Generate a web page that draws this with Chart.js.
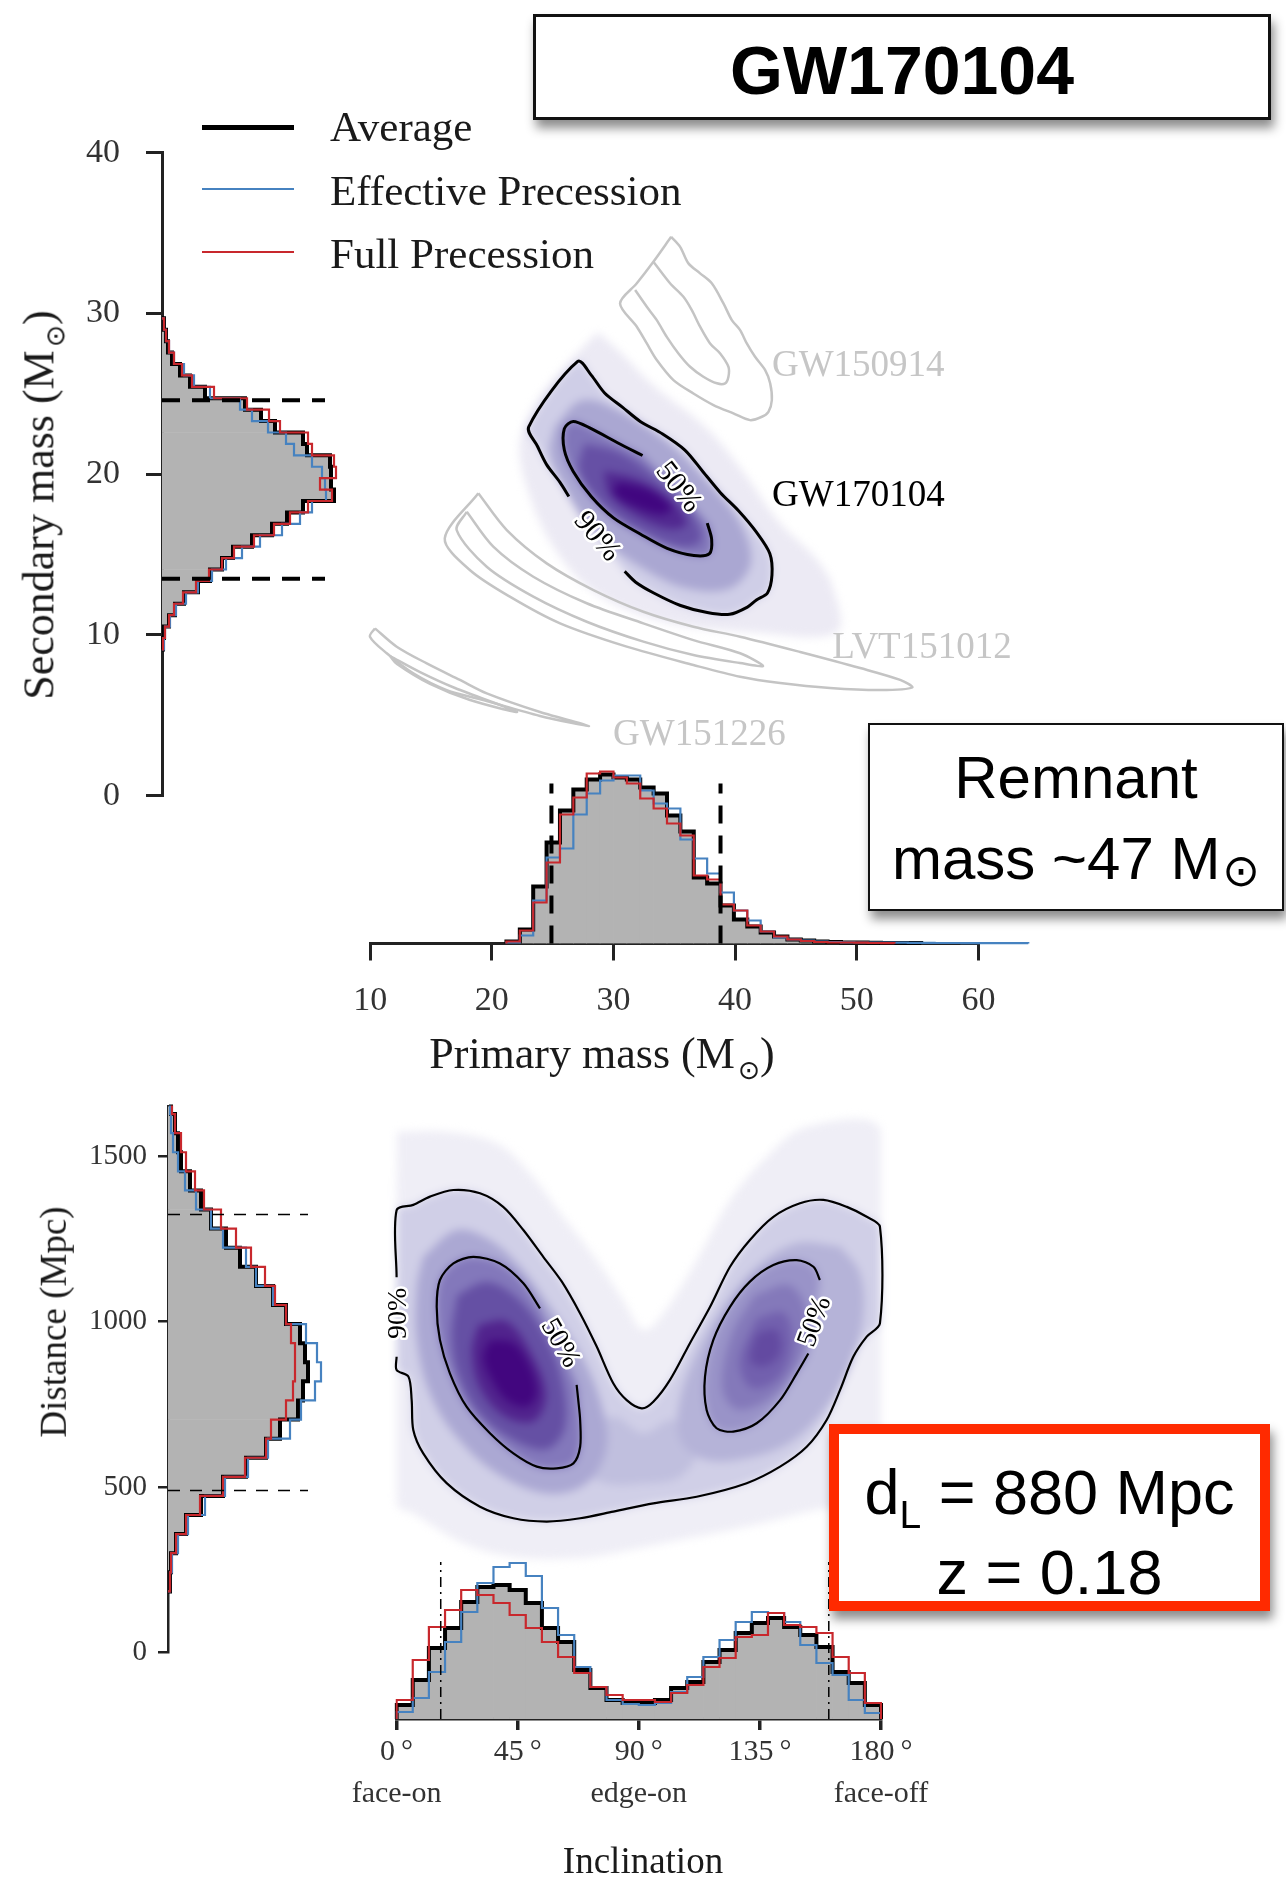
<!DOCTYPE html>
<html>
<head>
<meta charset="utf-8">
<title>GW170104</title>
<script src="https://cdn.jsdelivr.net/npm/chart.js@4.4.1/dist/chart.umd.min.js"></script>
<style>
  html, body { margin: 0; padding: 0; background: #fff; }
  body { width: 1286px; height: 1885px; position: relative; overflow: hidden; font-family: 'Liberation Serif', 'Times New Roman', serif; }
  canvas { position: absolute; }
  .t { position: absolute; white-space: nowrap; color: #1a1a1a; line-height: 1.2; }
  .c { transform: translate(-50%, -50%); }
  .r { transform: translate(-50%, -50%) rotate(-90deg); }
  .l { transform: translateY(-50%); }
  .sun { font-family: 'DejaVu Sans', sans-serif; font-size: 0.6em; vertical-align: -0.4em; margin-left: 0.12em; }
  .swatch { position: absolute; left: 202px; width: 92px; }
  .box { position: absolute; box-sizing: border-box; background: #fff; font-family: 'Liberation Sans', Arial, sans-serif; color: #000; box-shadow: 3px 8px 10px rgba(0,0,0,0.45); }
  .box div { position: absolute; left: 0; right: 0; text-align: center; white-space: nowrap; transform: translateY(-50%); line-height: 1.15; }
</style>
</head>
<body>

<canvas id="secHist" width="360" height="720" style="left:0;top:100px"></canvas>
<canvas id="massDensity" width="800" height="680" style="left:300px;top:140px;filter:blur(4px)"></canvas>
<canvas id="massContours" width="800" height="680" style="left:300px;top:140px"></canvas>
<canvas id="primHist" width="800" height="340" style="left:300px;top:740px"></canvas>
<canvas id="distHist" width="360" height="600" style="left:0;top:1090px"></canvas>
<canvas id="incDensity" width="520" height="560" style="left:380px;top:1100px;filter:blur(4px)"></canvas>
<canvas id="incContours" width="520" height="560" style="left:380px;top:1100px"></canvas>
<canvas id="incHist" width="620" height="355" style="left:330px;top:1530px"></canvas>

<!-- legend -->
<div class="swatch" style="top:125px;height:5px;background:#000"></div>
<div class="swatch" style="top:188px;height:2px;background:#4682c0"></div>
<div class="swatch" style="top:251px;height:2px;background:#c8282d"></div>
<div class="t l" style="left:330px;top:127px;font-size:43px">Average</div>
<div class="t l" style="left:330px;top:191px;font-size:43px">Effective Precession</div>
<div class="t l" style="left:330px;top:254px;font-size:43px">Full Precession</div>

<!-- axis titles -->
<div class="t r" style="left:42px;top:505px;font-size:44px">Secondary mass (M<span class="sun">⊙</span>)</div>
<div class="t c" style="left:602px;top:1057px;font-size:44px">Primary mass (M<span class="sun">⊙</span>)</div>
<div class="t r" style="left:54px;top:1322px;font-size:37px">Distance (Mpc)</div>
<div class="t c" style="left:643px;top:1861px;font-size:37px">Inclination</div>

<!-- boxes -->
<div class="box" style="left:533px;top:14px;width:738px;height:106px;border:3px solid #111">
  <div style="top:53px;font-size:68px;font-weight:bold">GW170104</div>
</div>
<div class="box" style="left:868px;top:723px;width:416px;height:188px;border:2.5px solid #111">
  <div style="top:52px;font-size:60px">Remnant</div>
  <div style="top:135px;font-size:60px">mass ~47 M<span style="font-family:'DejaVu Sans',sans-serif;font-size:0.75em;vertical-align:-0.15em;margin-left:0.04em">⊙</span></div>
</div>
<div class="box" style="left:829px;top:1424px;width:441px;height:187px;border:10px solid #ff2a00">
  <div style="top:63px;font-size:63px">d<span style="font-size:0.62em;vertical-align:-0.35em">L</span> = 880 Mpc</div>
  <div style="top:138px;font-size:63px">z = 0.18</div>
</div>

<script>
// ---------------- histogram data ----------------
// Secondary mass (M_sun): bins of 0.71 starting at 9.1
const m2BinStart = 9.1, m2BinWidth = 0.71;
const m2Average   = [1, 2, 7, 13, 22, 36, 48, 60, 71, 90, 110, 125, 141, 172, 169, 169, 168, 145, 141, 113, 99, 83, 43, 28, 18, 10, 6, 4, 2];
const m2Effective = [2, 3, 8, 14, 24, 36, 50, 64, 80, 98, 120, 138, 150, 164, 163, 160, 150, 132, 124, 106, 90, 78, 48, 32, 22, 12, 7, 4, 2];
const m2Full      = [1, 3, 7, 12, 21, 34, 47, 60, 72, 92, 112, 128, 146, 170, 158, 174, 172, 150, 146, 118, 107, 85, 52, 30, 20, 12, 7, 4, 2];
const m2Interval  = [13.5, 24.6];
const m2Ticks     = [0, 10, 20, 30, 40];

// Primary mass (M_sun): bins of 1.1 starting at 21.2
const m1BinStart = 21.2, m1BinWidth = 1.1;
const m1Average   = [2, 14, 57, 101, 133, 154, 164, 169, 166, 164, 156, 150, 128, 112, 66, 60, 38, 24, 17, 11, 7, 4, 3, 2, 1.5, 1, 1, 0.8, 0.6, 0.5, 0.4, 0, 0, 0, 0, 0, 0, 0, 0];
const m1Effective = [1, 8, 43, 86, 95, 129, 150, 163, 168, 168, 153, 140, 135, 104, 85, 70, 51, 33, 23, 12, 6, 4, 3, 2, 1.5, 1.2, 1, 1, 0.8, 0.8, 0.6, 0.6, 0.5, 0.5, 0.4, 0.4, 0.3, 0.3, 0.3];
const m1Full      = [2, 13, 41, 81, 129, 146, 170, 172, 166, 160, 145, 135, 120, 108, 68, 64, 39, 33, 18, 12, 7, 4, 2.5, 1.5, 1, 1, 0.8, 0.5, 0.3, 0, 0, 0, 0, 0, 0, 0, 0, 0, 0];
const m1Interval  = [24.9, 38.8];
const m1Ticks     = [10, 20, 30, 40, 50, 60];

// Luminosity distance (Mpc): bins of 57.7 starting at 185
const distBinStart = 185, distBinWidth = 57.7;
const distAverage   = [2, 3, 8, 18, 33, 55, 78, 98, 112, 130, 135, 140, 137, 132, 118, 105, 88, 72, 58, 43, 33, 22, 13, 10, 7, 3];
const distEffective = [2, 4, 10, 20, 37, 57, 80, 100, 122, 133, 147, 153, 149, 138, 118, 105, 88, 78, 55, 43, 28, 17, 10, 5, 3, 2];
const distFull      = [2, 3, 8, 18, 32, 55, 77, 98, 103, 118, 125, 127, 127, 123, 118, 107, 97, 83, 68, 53, 36, 27, 18, 13, 7, 4];
const distInterval  = [490, 1324];
const distTicks     = [0, 500, 1000, 1500];

// Inclination (deg): 6 degree bins
const incBinStart = 0, incBinWidth = 6;
const incAverage   = [14, 39, 71, 91, 117, 132, 134, 129, 116, 91, 77, 49, 31, 19, 16, 16, 19, 31, 37, 57, 69, 86, 96, 101, 92, 84, 72, 47, 36, 14];
const incEffective = [7, 21, 47, 77, 107, 136, 152, 156, 143, 111, 84, 52, 32, 19, 15, 14, 16, 27, 42, 62, 79, 97, 107, 106, 97, 74, 56, 44, 19, 6];
const incFull      = [19, 59, 92, 109, 129, 124, 116, 104, 91, 77, 62, 46, 32, 24, 19, 19, 17, 26, 34, 52, 61, 82, 84, 106, 94, 92, 86, 62, 46, 16];
const incInterval  = [16.4, 160.6];
const incTicks     = [0, 45, 90, 135, 180];
const incTickNotes = { 0: 'face-on', 90: 'edge-on', 180: 'face-off' };

// ---------------- 2D credible regions: (m1, m2) ----------------
const gw170104Contour90 = [[26.33,18.61],[25.59,19.5],[24.49,20.61],[23.76,21.72],[23.03,22.94],[27.06,27.01],[28.17,26.16],[29.27,25.05],[30.73,24.17],[32.2,23.28],[34.04,22.5],[35.87,21.5],[37.34,20.17],[38.81,18.83],[40.28,17.72],[41.75,16.39],[42.85,15.06],[43.03,13.73],[42.66,12.61],[41.75,12.17],[41.01,11.73],[39.55,11.28],[37.71,11.39],[35.51,11.83],[33.31,12.61],[31.83,13.28],[30.92,13.95]];
const gw170104Contour50 = [[32.39,21.16],[30.37,21.94],[28.17,22.83],[26.69,23.28],[25.96,22.83],[25.96,21.5],[26.69,20.17],[28.17,18.61],[30.0,17.28],[32.2,16.28],[34.41,15.39],[36.61,14.94],[37.89,15.06],[38.07,15.95],[37.71,16.95]];
const gw150914Outer = [[34.74,34.76],[35.48,34.14],[36.16,33.11],[37.12,32.49],[38.08,31.87],[39.04,30.62],[39.73,29.58],[40.41,28.96],[40.96,28.13],[41.64,27.3],[42.47,26.47],[42.88,25.65],[43.02,24.61],[42.74,23.88],[42.2,23.57],[41.23,23.36],[39.86,23.78],[38.22,24.3],[36.57,25.02],[34.93,25.85],[33.56,27.1],[32.74,28.13],[31.92,29.17],[30.54,30.62],[31.92,31.87],[33.28,33.21]];
const gw150914Inner = [[33.28,33.21],[34.65,31.87],[35.75,31.03],[36.44,30.2],[37.12,29.17],[37.94,28.13],[38.77,27.51],[39.45,26.68],[39.45,26.06],[39.18,25.65],[38.5,25.65],[37.39,26.06],[36.3,26.68],[35.34,27.51],[34.38,28.54],[33.56,29.58],[32.74,30.41],[31.78,31.45]];
const lvt151012Outer = [[18.89,18.81],[21.23,16.52],[24.51,14.45],[28.35,12.79],[32.46,11.44],[36.57,10.51],[40.41,9.89],[45.35,8.94],[50.28,7.94],[53.57,7.2],[54.56,6.73],[51.92,6.57],[47.8,6.7],[43.7,7.01],[40.41,7.4],[36.57,8.13],[31.09,9.27],[25.61,10.72],[21.48,12.38],[18.19,14.04],[16.13,16.01]];
const lvt151012Inner = [[17.94,17.66],[20.12,15.49],[23.41,13.62],[27.8,11.97],[32.46,10.72],[36.57,9.68],[40.41,8.86],[42.3,8.07],[40.41,8.25],[36.57,8.75],[32.46,9.58],[27.8,10.82],[23.41,12.38],[19.58,14.24],[17.11,16.52]];
const gw151226Outer = [[10.39,10.41],[12.18,9.27],[14.65,8.23],[17.38,7.2],[19.58,6.37],[23.96,5.21],[27.99,4.34],[23.96,4.96],[19.3,5.95],[16.29,6.57],[13.54,7.61],[11.36,8.86],[9.98,9.89]];
const gw151226Inner = [[11.63,8.69],[14.1,7.69],[16.97,6.7],[22.07,5.21],[18.21,5.95],[14.92,6.95],[12.2,8.19]];

// posterior density levels for GW170104 in (m1, m2), outermost first
const massDensityOuter = [[28.72,28.83],[30.37,27.72],[33.31,25.5],[37.71,22.83],[40.65,20.17],[43.58,17.06],[46.52,14.84],[47.99,13.06],[48.36,10.17],[41.38,10.17],[34.04,10.84],[28.53,12.61],[25.23,15.28],[23.03,18.83],[22.29,21.94],[23.76,24.61],[26.69,27.28]];
const massDensityMid   = [[25.2,23.0],[27.43,24.6],[30.6,23.9],[34.3,22.1],[37.7,19.6],[40.4,17.0],[41.3,14.5],[39.6,12.9],[36.0,12.9],[32.3,14.2],[28.4,16.4],[25.9,19.2],[24.8,21.4]];
const massDensityInner = [[27.6,21.9],[30.6,21.3],[33.8,19.6],[36.4,17.6],[37.2,15.9],[35.6,15.5],[32.3,16.4],[29.2,18.0],[27.2,20.2]];
const massDensityCore  = [[29.2,20.2],[32.0,19.7],[34.9,18.3],[36.0,16.9],[34.6,16.6],[31.9,17.4],[29.7,18.7]];
const massDensityPeak  = [[30.37,19.5],[32.94,19.05],[34.77,17.95],[34.04,17.5],[31.83,17.95],[30.0,18.83]];

// ---------------- 2D credible regions: (inclination, distance) ----------------
const incContour90 = [[0,894],[0,854],[4.4,834],[5.6,763],[6.2,673],[9.9,602],[18.6,512],[31,441],[43.4,406],[55.8,396],[68.2,406],[80.5,426],[95.4,451],[111.5,471],[130.1,512],[142.5,562],[152.4,622],[159.8,703],[164.8,794],[169.7,894],[174.7,955],[179.6,995],[179.6,1287],[174.7,1317],[167.3,1347],[158.6,1368],[149.9,1358],[140,1317],[131.3,1247],[123.9,1166],[116.5,1045],[109,935],[101.6,824],[95.4,758],[91.1,738],[85.5,763],[80.5,814],[74.4,924],[68.2,1025],[61.4,1121],[54.5,1196],[47.1,1277],[39.6,1347],[31,1388],[21.1,1398],[12.4,1378],[6.2,1353],[0,1337],[0,1134]];
const incContour50Left  = [[53.3,1040],[47.1,1116],[38.4,1176],[28.5,1196],[21.1,1176],[16.1,1126],[14.9,1045],[16.1,945],[19.8,844],[26,743],[34.7,663],[43.4,602],[52.1,562],[59.5,557],[65.7,572],[68.2,622],[68.2,703],[67.5,763],[66.9,809]];
const incContour50Right = [[157.3,1126],[154.9,1166],[148.7,1186],[140,1171],[131.3,1121],[123.9,1045],[117.7,945],[114.6,834],[115.2,733],[118.9,678],[125.1,668],[133.8,693],[142.5,763],[148.7,844],[153,904]];

const incDensityOuter = [[0,1574],[18.6,1574],[37.2,1539],[49.6,1448],[61.9,1317],[74.4,1186],[84.2,1065],[91.7,975],[99.1,1025],[111.5,1186],[123.9,1368],[136.3,1488],[152.4,1589],[180,1574],[180,480],[154.9,430],[130.1,380],[105.3,340],[86.7,310],[68.2,285],[43.4,290],[24.8,330],[6.2,420],[0,450]];
const incDensityMidLeft  = [[9.9,1196],[22.3,1277],[34.7,1247],[45.9,1166],[57.0,1045],[68.2,904],[75.6,763],[78.1,622],[70.6,512],[55.8,481],[37.2,542],[22.3,652],[12.4,783],[7.5,945],[7.5,1106]];
const incDensityMidRight = [[164.8,1227],[172.2,1146],[173.4,1015],[168.5,864],[159.8,743],[147.4,642],[132.6,592],[115.2,582],[105.3,642],[105.3,763],[111.5,904],[121.4,1045],[133.8,1166],[148.7,1237]];
const incDensityBridge   = [[68.2,663],[80.5,713],[91.7,663],[102.8,703],[111.5,612],[105.3,531],[91.7,511],[78.1,511],[68.2,562]];
const incDensityInnerLeft  = [[22.5,1080],[33.5,1120],[45.0,1070],[55.0,960],[61.5,820],[62.5,680],[56.0,615],[44.0,640],[31.0,720],[23.0,840],[20.5,960]];
const incDensityInnerRight = [[133.0,1080],[146.0,1110],[152.5,1020],[149.5,880],[139.0,770],[126.5,735],[121.0,800],[124.5,960]];
const incDensityCoreLeft   = [[30.5,990],[41.0,1000],[50.0,905],[55.5,780],[51.0,700],[40.0,715],[31.0,800],[28.0,910]];
const incDensityCoreRight  = [[133.8,1010],[144.0,1025],[147.0,930],[142.0,830],[132.0,800],[127.5,880]];
const incDensityPeakLeft   = [[34.7,945],[43.4,935],[49.6,864],[52.1,784],[48.3,743],[40.9,763],[34.7,834],[32.2,894]];
const incDensityPeakRight  = [[133.8,965],[141.2,975],[142.5,904],[136.3,864],[131.3,884]];

// ---------------- labels placed in data coordinates ----------------
const massLabels = [
  { text: 'GW150914',  x: 43.03, y: 26.72, align: 'left', size: 37, color: '#c6c6c6' },
  { text: 'GW170104',  x: 43.04, y: 18.64, align: 'left', size: 37, color: '#000' },
  { text: 'LVT151012', x: 47.98, y: 9.19,  align: 'left', size: 37, color: '#c6c6c6' },
  { text: 'GW151226',  x: 29.97, y: 3.73,  align: 'left', size: 37, color: '#c6c6c6' },
  { text: '50%', x: 35.31, y: 19.17, rotation: 52, size: 30, color: '#000', halo: true },
  { text: '90%', x: 28.63, y: 16.11, rotation: 50, size: 30, color: '#000', halo: true }
];
const incLabels = [
  { text: '90%', x: 0.6,   y: 1025, rotation: -90, size: 28, color: '#000', halo: true },
  { text: '50%', x: 60.7,  y: 935,  rotation: 60,  size: 28, color: '#000', halo: true },
  { text: '50%', x: 155.5, y: 1000, rotation: -70, size: 28, color: '#000', halo: true }
];

// ---------------- drawing ----------------
const SERIF = "'Liberation Serif', 'Times New Roman', serif";
const AXIS = '#222222';
const GREY_FILL = '#b3b3b3', AVG = '#000000', EFF = '#4682c0', FULL = '#c8282d';
const OTHER_EVENTS = '#c4c4c4';

// text drawn at data coordinates, optionally rotated and haloed like contour labels
const textMarks = {
  id: 'textMarks',
  afterDatasetsDraw(chart, args, opts) {
    const ctx = chart.ctx, xs = chart.scales.x, ys = chart.scales.y;
    (opts.items || []).forEach(it => {
      ctx.save();
      ctx.translate(xs.getPixelForValue(it.x), ys.getPixelForValue(it.y));
      ctx.rotate((it.rotation || 0) * Math.PI / 180);
      ctx.font = it.size + 'px ' + SERIF;
      ctx.textAlign = it.align || 'center';
      ctx.textBaseline = 'middle';
      if (it.halo) {
        ctx.lineJoin = 'round';
        ctx.lineWidth = 5;
        ctx.strokeStyle = '#ffffff';
        ctx.strokeText(it.text, 0, 0);
      }
      ctx.fillStyle = it.color || '#000';
      ctx.fillText(it.text, 0, 0);
      ctx.restore();
    });
  }
};

function fixedScale(min, max, ticks) {
  const s = {
    type: 'linear', bounds: 'data', offset: false, grid: { offset: false },
    afterDataLimits(sc) { sc.min = min; sc.max = max; }
  };
  if (ticks) s.afterBuildTicks = sc => { sc.ticks = ticks.map(v => ({ value: v })); };
  return s;
}
function hiddenScale(min, max) {
  return Object.assign(fixedScale(min, max), { display: false });
}
function axisScale(min, max, ticks, o) {
  return Object.assign(fixedScale(min, max, ticks), {
    display: true,
    position: o.position,
    grid: { display: true, offset: false, drawOnChartArea: false, drawTicks: true, tickLength: o.tickLength, color: AXIS, lineWidth: o.lineWidth },
    border: { display: true, color: AXIS, width: o.lineWidth },
    ticks: {
      font: { family: SERIF, size: o.fontSize, lineHeight: o.lineHeight || 1.2 },
      color: '#333333', padding: o.padding, autoSkip: false, maxRotation: 0, minRotation: 0,
      callback: o.format || (v => String(v))
    },
    afterFit(sc) {
      if (o.position === 'left') sc.width = o.size; else sc.height = o.size;
      sc.paddingLeft = sc.paddingRight = sc.paddingTop = sc.paddingBottom = 0;
    }
  });
}

// bin outline as a step path; binsAlongX says whether the bin axis is horizontal
function stepPath(start, width, values, binsAlongX) {
  let last = values.length;
  while (last > 0 && !values[last - 1]) last--;
  const P = (e, v) => binsAlongX ? { x: e, y: v } : { x: v, y: e };
  const pts = [P(start, 0)];
  for (let i = 0; i < last; i++) {
    pts.push(P(start + i * width, values[i]), P(start + (i + 1) * width, values[i]));
  }
  pts.push(P(start + last * width, 0));
  return pts;
}
function binBars(start, width, values, binsAlongX) {
  return values.map((v, i) => {
    const c = start + (i + 0.5) * width;
    return binsAlongX ? { x: c, y: v } : { x: v, y: c };
  });
}
function line(points, color, widthPx, extra) {
  return Object.assign({
    type: 'scatter', data: points, showLine: true, borderColor: color, borderWidth: widthPx,
    pointRadius: 0, fill: false, tension: 0, clip: false
  }, extra || {});
}
function histogramSets(start, width, avg, eff, full, binsAlongX, clipLines) {
  const extra = clipLines ? { clip: undefined } : {};
  return [
    { type: 'bar', data: binBars(start, width, avg, binsAlongX), backgroundColor: GREY_FILL, borderWidth: 0,
      barPercentage: 1, categoryPercentage: 1, grouped: false },
    line(stepPath(start, width, avg, binsAlongX), AVG, 4, extra),
    line(stepPath(start, width, eff, binsAlongX), EFF, 2.2, extra),
    line(stepPath(start, width, full, binsAlongX), FULL, 2.2, extra)
  ];
}
function toXY(pairs) { return pairs.map(([x, y]) => ({ x, y })); }
function region(pairs, color) {
  return {
    type: 'scatter', data: toXY(pairs.concat([pairs[0]])), showLine: true, fill: 'shape',
    backgroundColor: color, borderColor: 'rgba(0,0,0,0)', borderWidth: 1, pointRadius: 0, tension: 0.35
  };
}
function contour(pairs, color, widthPx, closed) {
  const pts = closed ? pairs.concat([pairs[0]]) : pairs;
  return line(toXY(pts), color, widthPx, { tension: 0.3 });
}

function build(id, padding, scales, datasets, opts) {
  const n = datasets.length;
  datasets.forEach((d, i) => { d.order = n - i; });   // later datasets drawn on top
  return new Chart(document.getElementById(id), {
    type: 'scatter',
    data: { datasets },
    options: Object.assign({
      responsive: false, animation: false, devicePixelRatio: 1, events: [],
      layout: { padding },
      scales,
      elements: { point: { radius: 0 }, line: { capBezierPoints: false } },
      plugins: { legend: { display: false }, tooltip: { enabled: false }, textMarks: { items: (opts && opts.items) || [] } }
    }, (opts && opts.options) || {}),
    plugins: [textMarks]
  });
}

// ---- secondary mass histogram (bins along y) ----
const m2DashLength = 163;
build('secHist', { left: 0, right: 0, top: 52.6, bottom: 24.3 }, {
  x: hiddenScale(0, 198),
  y: axisScale(0, 40, m2Ticks, { position: 'left', size: 162, tickLength: 16, lineWidth: 3, fontSize: 34, padding: 26 })
}, histogramSets(m2BinStart, m2BinWidth, m2Average, m2Effective, m2Full, false, true).concat(
  m2Interval.map(v => line([{ x: 0, y: v }, { x: m2DashLength, y: v }], '#000', 4, { borderDash: [18, 12] }))
), { options: { indexAxis: 'y' } });

// ---- primary vs secondary mass: density and credible regions ----
const massPad = { left: 70.2, right: 121.6, top: 12.6, bottom: 24.3 };
const massScales = () => ({ x: hiddenScale(10, 60), y: hiddenScale(0, 40) });
build('massDensity', massPad, massScales(), [
  region(massDensityOuter, '#eceaf4'),
  region(gw170104Contour90, '#cfcee7'),
  region(massDensityMid, '#aaa7d2'),
  region(gw170104Contour50, '#8075b9'),
  region(massDensityInner, '#6650a5'),
  region(massDensityCore, '#512890'),
  region(massDensityPeak, '#410680')
]);
build('massContours', massPad, massScales(), [
  contour(gw150914Outer, OTHER_EVENTS, 2.5, true),
  contour(gw150914Inner, OTHER_EVENTS, 2.5, false),
  contour(lvt151012Outer, OTHER_EVENTS, 2.5, true),
  contour(lvt151012Inner, OTHER_EVENTS, 2.5, true),
  contour(gw151226Outer, OTHER_EVENTS, 2.5, true),
  contour(gw151226Inner, OTHER_EVENTS, 2.5, true),
  contour(gw170104Contour90, '#000', 3, false),
  contour(gw170104Contour50, '#000', 3, false)
], { items: massLabels });

// ---- primary mass histogram (bins along x) ----
const m1DashHeight = 160;
build('primHist', { left: 70.2, right: 121.6, top: 23.5, bottom: 0 }, {
  x: axisScale(10, 60, m1Ticks, { position: 'bottom', size: 136.5, tickLength: 17, lineWidth: 3, fontSize: 34, padding: 20 }),
  y: hiddenScale(0, 180)
}, histogramSets(m1BinStart, m1BinWidth, m1Average, m1Effective, m1Full, true, false).concat(
  m1Interval.map(v => line([{ x: v, y: 0 }, { x: v, y: m1DashHeight }], '#000', 4, { borderDash: [18, 12] }))
));

// ---- distance histogram (bins along y) ----
const distDashLength = 140;
build('distHist', { left: 0, right: 0, top: 16.6, bottom: 37.4 }, {
  x: hiddenScale(0, 192),
  y: axisScale(0, 1650, distTicks, { position: 'left', size: 168, tickLength: 10, lineWidth: 2.5, fontSize: 29, padding: 11 })
}, histogramSets(distBinStart, distBinWidth, distAverage, distEffective, distFull, false, true).concat(
  distInterval.map(v => line([{ x: 0, y: v }, { x: distDashLength, y: v }], '#000', 1.5, { borderDash: [12, 10] }))
), { options: { indexAxis: 'y' } });

// ---- inclination vs distance: density and credible regions ----
const incPad = { left: 16.6, right: 19, top: 6.6, bottom: 7.4 };
const incScales = () => ({ x: hiddenScale(0, 180), y: hiddenScale(0, 1650) });
build('incDensity', incPad, incScales(), [
  region(incDensityOuter, '#efeef6'),
  region(incContour90, '#d0cfe7'),
  region(incDensityBridge, '#c0bfde'),
  region(incDensityMidLeft, '#aba8d3'),
  region(incDensityMidRight, '#b5b3d8'),
  region(incContour50Left, '#8378bb'),
  region(incContour50Right, '#9993c8'),
  region(incDensityInnerLeft, '#6550a4'),
  region(incDensityInnerRight, '#8479ba'),
  region(incDensityCoreLeft, '#51238d'),
  region(incDensityCoreRight, '#7260ae'),
  region(incDensityPeakLeft, '#42067f'),
  region(incDensityPeakRight, '#634aa1')
]);
build('incContours', incPad, incScales(), [
  contour(incContour90, '#000', 2.2, false),
  contour(incContour50Left, '#000', 2.2, false),
  contour(incContour50Right, '#000', 2.2, false)
], { items: incLabels });

// ---- inclination histogram (bins along x) ----
const incDashHeight = 157;
build('incHist', { left: 66.6, right: 69, top: 9, bottom: 0 }, {
  x: axisScale(0, 180, incTicks, {
    position: 'bottom', size: 166, tickLength: 11, lineWidth: 3.5, fontSize: 30, lineHeight: 1.4, padding: 1,
    format: v => incTickNotes[v] ? [v + '\u2009°', incTickNotes[v]] : v + '\u2009°'
  }),
  y: hiddenScale(0, 180)
}, histogramSets(incBinStart, incBinWidth, incAverage, incEffective, incFull, true, true).concat(
  incInterval.map(v => line([{ x: v, y: 0 }, { x: v, y: incDashHeight }], '#000', 1.5, { borderDash: [10, 5, 2, 5] }))
));
</script>
</body>
</html>
